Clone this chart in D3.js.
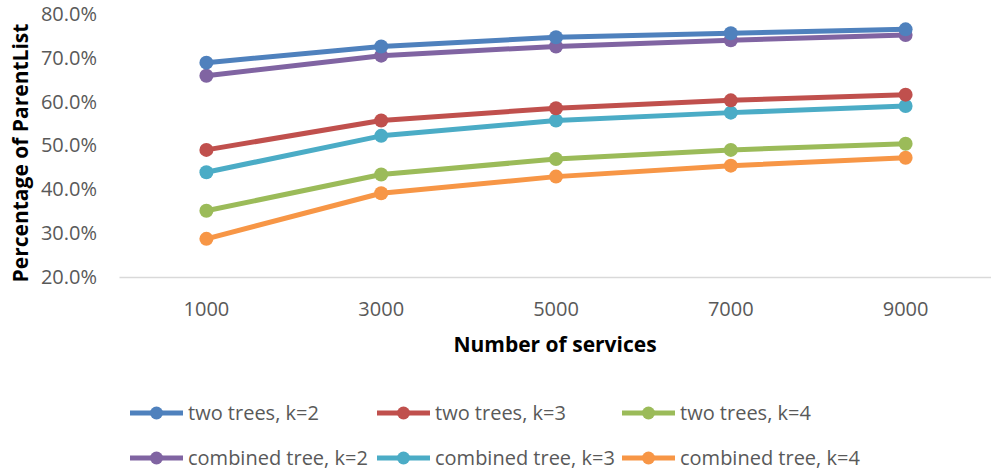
<!DOCTYPE html>
<html>
<head>
<meta charset="utf-8">
<script src="https://cdn.jsdelivr.net/npm/d3@7"></script>
<style>
  html, body { margin: 0; padding: 0; background: #fff; }
  svg { display: block; }
</style>
</head>
<body>
<svg id="chart" width="991" height="471"></svg>
<script>
// Number of services on the x axis
const services = ["1000", "3000", "5000", "7000", "9000"];

// Percentage of ParentList per configuration
const twoTreesK2 = [68.9, 72.6, 74.7, 75.6, 76.5];
const twoTreesK3 = [49.0, 55.7, 58.5, 60.3, 61.6];
const twoTreesK4 = [35.1, 43.4, 46.9, 49.0, 50.4];
const combinedK2 = [65.9, 70.5, 72.6, 74.0, 75.2];
const combinedK3 = [43.9, 52.2, 55.7, 57.5, 59.0];
const combinedK4 = [28.7, 39.1, 42.9, 45.4, 47.2];

const seriesNames = [
  "two trees, k=2", "two trees, k=3", "two trees, k=4",
  "combined tree, k=2", "combined tree, k=3", "combined tree, k=4"
];
const seriesValues = [twoTreesK2, twoTreesK3, twoTreesK4, combinedK2, combinedK3, combinedK4];
const seriesColors = ["#4f81bd", "#c0504d", "#9bbb59", "#8064a2", "#4bacc6", "#f79646"];

const yTicks = [20, 30, 40, 50, 60, 70, 80];

const svg = d3.select("#chart");
const font = "'Open Sans', 'Noto Sans', sans-serif";

const plot = { left: 119, right: 993, top: 14, bottom: 277 };

const x = d3.scaleBand().domain(services).range([plot.left, plot.right]);
const y = d3.scaleLinear().domain([20, 80]).range([plot.bottom, plot.top]);

// Y axis labels
const yAxis = svg.append("g")
  .attr("transform", `translate(${plot.left - 22},0)`)
  .call(d3.axisLeft(y).tickValues(yTicks).tickSize(0).tickPadding(0)
    .tickFormat(d => d.toFixed(1) + "%"));
yAxis.select(".domain").remove();
yAxis.selectAll("text")
  .attr("fill", "#595959")
  .style("font-family", font)
  .style("font-size", "20px");

// Category axis along the bottom
const xAxis = svg.append("g")
  .attr("transform", `translate(0,${plot.bottom})`)
  .call(d3.axisBottom(x).tickSize(0).tickPadding(25));
xAxis.select(".domain").attr("stroke", "#d9d9d9").attr("stroke-width", 1.5);
xAxis.selectAll("text")
  .attr("fill", "#595959")
  .style("font-family", font)
  .style("font-size", "20px");

// Axis titles
svg.append("text")
  .attr("x", 555).attr("y", 352)
  .attr("text-anchor", "middle")
  .style("font-family", font).style("font-size", "21px").style("font-weight", "bold")
  .attr("fill", "#000")
  .text("Number of services");

svg.append("text")
  .attr("transform", "translate(28,153) rotate(-90)")
  .attr("text-anchor", "middle")
  .style("font-family", font).style("font-size", "21px").style("font-weight", "bold")
  .attr("fill", "#000")
  .text("Percentage of ParentList");

// Lines with markers
const cx = d => x(d) + x.bandwidth() / 2;
const line = d3.line().x((v, i) => cx(services[i])).y(v => y(v));

const drawOrder = [3, 0, 4, 1, 5, 2];
drawOrder.forEach(s => {
  const g = svg.append("g");
  g.append("path")
    .attr("d", line(seriesValues[s]))
    .attr("fill", "none")
    .attr("stroke", seriesColors[s])
    .attr("stroke-width", 5)
    .attr("stroke-linejoin", "round");
  g.selectAll("circle")
    .data(seriesValues[s])
    .join("circle")
    .attr("cx", (v, i) => cx(services[i]))
    .attr("cy", v => y(v))
    .attr("r", 7)
    .attr("fill", seriesColors[s]);
});

// Legend: two rows, three fixed columns
const legend = svg.append("g");
const rowY = [413, 458];
const colX = [130, 377, 622];
seriesNames.forEach((name, i) => {
  const g = legend.append("g")
    .attr("transform", `translate(${colX[i % 3]},${rowY[Math.floor(i / 3)]})`);
  g.append("line").attr("x1", 0).attr("x2", 53).attr("y1", 0).attr("y2", 0)
    .attr("stroke", seriesColors[i]).attr("stroke-width", 5);
  g.append("circle").attr("cx", 26.5).attr("cy", 0).attr("r", 6.5).attr("fill", seriesColors[i]);
  g.append("text").attr("x", 58).attr("y", 0).attr("dy", "0.35em")
    .attr("fill", "#595959")
    .style("font-family", font).style("font-size", "20px")
    .text(name);
});
</script>
</body>
</html>
